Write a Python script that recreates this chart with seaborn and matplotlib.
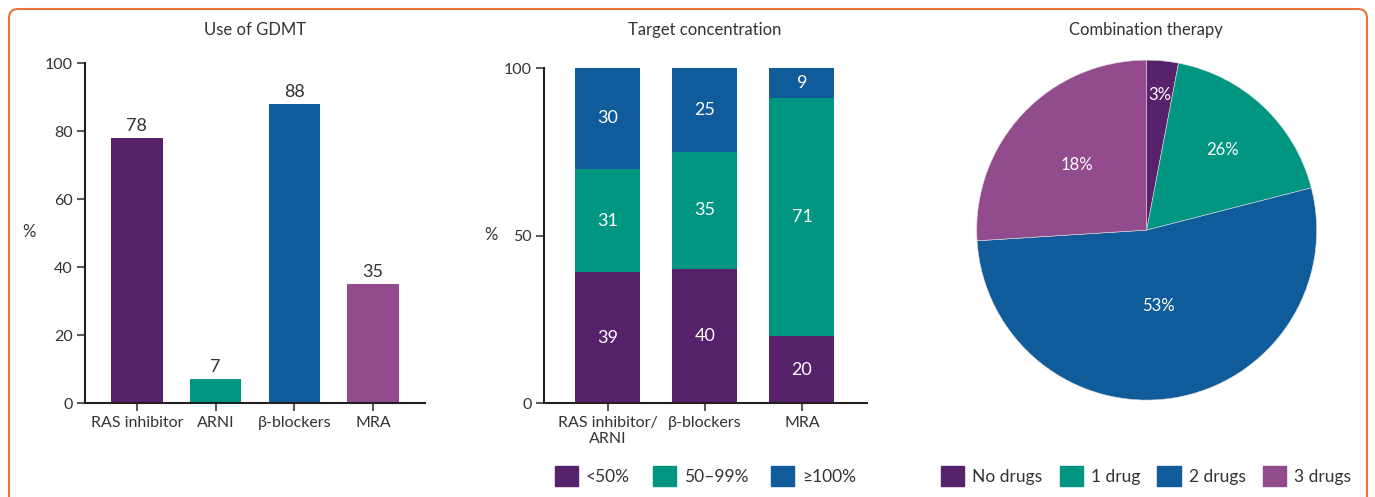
import numpy as np
import pandas as pd
import seaborn as sns
import matplotlib.pyplot as plt
from matplotlib.patches import Patch, FancyBboxPatch
from matplotlib.transforms import IdentityTransform

# ---- data ----
gdmt_drugs = ["RAS inhibitor", "ARNI", "β-blockers", "MRA"]
gdmt_use = [78, 7, 88, 35]

target_drugs = ["RAS inhibitor/\nARNI", "β-blockers", "MRA"]
target_levels = ["<50%", "50–99%", "≥100%"]
target_lt50 = [39, 40, 20]
target_50_99 = [31, 35, 71]
target_ge100 = [30, 25, 9]

combo_groups = ["No drugs", "1 drug", "2 drugs", "3 drugs"]
combo_share = [3, 18, 53, 26]            # slice sizes as drawn
combo_text = ["3%", "26%", "53%", "18%"]  # labels as printed

PURPLE = "#57216B"
TEAL = "#009681"
BLUE = "#105C9A"
PINK = "#924C8E"
TXT = "#333333"
TICK = "#5c5c5c"

sns.set_style("ticks")
plt.rcParams["font.family"] = ["Lato", "DejaVu Sans"]
plt.rcParams.update({
    "text.color": TXT,
    "axes.labelcolor": TXT,
    "xtick.color": TICK,
    "ytick.color": TICK,
    "xtick.labelcolor": TXT,
    "ytick.labelcolor": TXT,
})

fig = plt.figure(figsize=(13.75, 4.97), dpi=100)


def style_axes(ax):
    for s in ["top", "right"]:
        ax.spines[s].set_visible(False)
    for s in ["left", "bottom"]:
        ax.spines[s].set_color("#231F20")
        ax.spines[s].set_linewidth(1.5)
    ax.tick_params(axis="both", bottom=True, left=True, direction="out",
                   length=6, width=1.5, color=TICK, labelsize=11.5, pad=3)
    ax.set_xlabel("")
    ax.set_ylabel("")


# ---- panel 1: use of GDMT ----
ax1 = fig.add_axes([0.0618, 0.189, 0.2473, 0.684])
df1 = pd.DataFrame({"drug": gdmt_drugs, "pct": gdmt_use})
sns.barplot(data=df1, x="drug", y="pct", hue="drug",
            palette=[PURPLE, TEAL, BLUE, PINK], width=0.65,
            legend=False, saturation=1, linewidth=0, ax=ax1)
for c in ax1.containers:
    ax1.bar_label(c, padding=3, fontsize=13, color=TXT)
ax1.set_xlim(-0.66, 3.66)
ax1.set_ylim(0, 100)
ax1.set_yticks([0, 20, 40, 60, 80, 100])
style_axes(ax1)
fig.text(255 / 1375, 1 - 30 / 497, "Use of GDMT", fontsize=12,
         ha="center", va="center")
fig.text(29 / 1375, 1 - 232 / 497, "%", fontsize=12, ha="center", va="center")

# ---- panel 2: target concentration (stacked) ----
ax2 = fig.add_axes([0.3956, 0.189, 0.2349, 0.674])
df2 = pd.DataFrame({"drug": target_drugs,
                    "lt50": target_lt50,
                    "mid": target_50_99,
                    "ge100": target_ge100})
df2["top"] = df2["lt50"] + df2["mid"] + df2["ge100"]
df2["mid_top"] = df2["lt50"] + df2["mid"]

for col, colr in [("top", BLUE), ("mid_top", TEAL), ("lt50", PURPLE)]:
    sns.barplot(data=df2, x="drug", y=col, color=colr, width=0.67,
                saturation=1, linewidth=0, ax=ax2)

for i, row in df2.iterrows():
    ax2.text(i, row["lt50"] / 2, str(row["lt50"]), color="white",
             ha="center", va="center", fontsize=13)
    ax2.text(i, row["lt50"] + row["mid"] / 2, str(row["mid"]), color="white",
             ha="center", va="center", fontsize=13)
    ax2.text(i, row["mid_top"] + row["ge100"] / 2, str(row["ge100"]),
             color="white", ha="center", va="center", fontsize=13)

ax2.set_xlim(-0.66, 2.67)
ax2.set_ylim(0, 100)
ax2.set_yticks([0, 50, 100])
style_axes(ax2)
fig.text(705 / 1375, 1 - 30 / 497, "Target concentration", fontsize=12,
         ha="center", va="center")
fig.text(491 / 1375, 1 - 235 / 497, "%", fontsize=12, ha="center", va="center")

fig.legend(handles=[Patch(color=c, label=l)
                    for c, l in zip([PURPLE, TEAL, BLUE], target_levels)],
           loc="center", bbox_to_anchor=(0.513, 0.042), ncol=3, frameon=False,
           fontsize=12.5, handlelength=1.35, handleheight=1.35,
           handletextpad=0.45, columnspacing=1.3, borderaxespad=0)

# ---- panel 3: combination therapy (pie) ----
ax3 = fig.add_axes([0.7103, 0.195, 0.2473, 0.684])
wedges, _ = ax3.pie(combo_share, colors=[PURPLE, TEAL, BLUE, PINK],
                    startangle=90, counterclock=False, radius=1,
                    wedgeprops=dict(linewidth=0.4, edgecolor="#dddddd"))
label_r = [0.8, 0.65, 0.45, 0.56]
for w, txt, r in zip(wedges, combo_text, label_r):
    ang = np.deg2rad((w.theta1 + w.theta2) / 2)
    ax3.text(r * np.cos(ang), r * np.sin(ang), txt, color="white",
             ha="center", va="center", fontsize=12)
ax3.set_xlim(-1, 1)
ax3.set_ylim(-1, 1)
ax3.set_aspect("equal")
ax3.axis("off")
fig.text(1146 / 1375, 1 - 30 / 497, "Combination therapy", fontsize=12,
         ha="center", va="center")

fig.legend(handles=[Patch(color=c, label=l)
                    for c, l in zip([PURPLE, TEAL, BLUE, PINK], combo_groups)],
           loc="center", bbox_to_anchor=(1146 / 1375, 0.042), ncol=4,
           frameon=False, fontsize=12.5, handlelength=1.35, handleheight=1.35,
           handletextpad=0.45, columnspacing=1.0, borderaxespad=0)

# ---- outer rounded border ----
frame = FancyBboxPatch((9, -30), 1358, 518,
                       boxstyle="round,pad=0,rounding_size=9",
                       transform=IdentityTransform(), fill=False,
                       edgecolor="#E8743B", linewidth=1.5)
fig.patches.append(frame)

fig.savefig("out.png", dpi=100)
